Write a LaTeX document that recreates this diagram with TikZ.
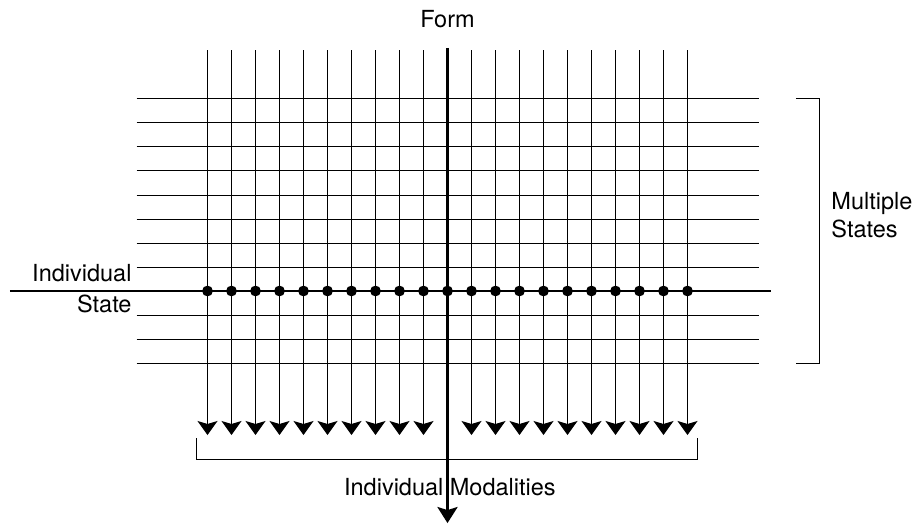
\documentclass[tikz,border=0pt]{standalone}
\usepackage{fontspec}
\setmainfont{TeX Gyre Heros}
\usetikzlibrary{arrows.meta}

\tikzset{
  gridline/.style={line width=0.5pt},
  modality/.style={line width=0.5pt, -{Stealth[length=7pt,width=10pt,inset=1.5pt]}},
  formline/.style={line width=1.5pt, -{Stealth[length=8pt,width=10pt,inset=1.5pt]}},
  label/.style={inner sep=0pt},
}

\begin{document}
\begin{tikzpicture}[x=12pt, y=12pt, font=\fontsize{11.75}{14.2}\selectfont]
	\useasboundingbox (-18.646,-9.75) rectangle (19.479,12.125);

	% Multiple states (horizontal lines)
	\foreach \y in {-3,-2,-1,1,2,...,8}
		\draw[gridline] (-12.95,\y) -- (12.98,\y);
	\draw[line width=1pt] (-18.23,0) -- (13.48,0);

	% Individual modalities (vertical arrows)
	\foreach \x in {-10,...,-1,1,2,...,10}
		\draw[modality] (\x,10.04) -- (\x,-6);
	\draw[formline] (0,10.125) -- (0,-9.67);

	% Points where the individual state meets each modality
	\foreach \x in {-10,...,10}
		\fill (\x,0) circle (2.7pt);

	% Brackets
	\draw[gridline] (14.52,8) -- (15.52,8) -- (15.52,-3) -- (14.52,-3);
	\draw[gridline] (-10.44,-6.125) -- (-10.44,-7.04) -- (10.4,-7.04) -- (10.4,-6.125);

	% Labels
	\node[label] (form) at (0,11.31) {Form};
	\node[label, align=right, anchor=east, font=\fontsize{11.75}{15.3}\selectfont] (indiv) at (-13.15,0.1) {Individual\\State};
	\node[label, align=left, anchor=west] (multi) at (15.98,3.15) {Multiple\\States};
	\node[label] (modal) at (0.1,-8.17) {Individual Modalities};
\end{tikzpicture}
\end{document}
